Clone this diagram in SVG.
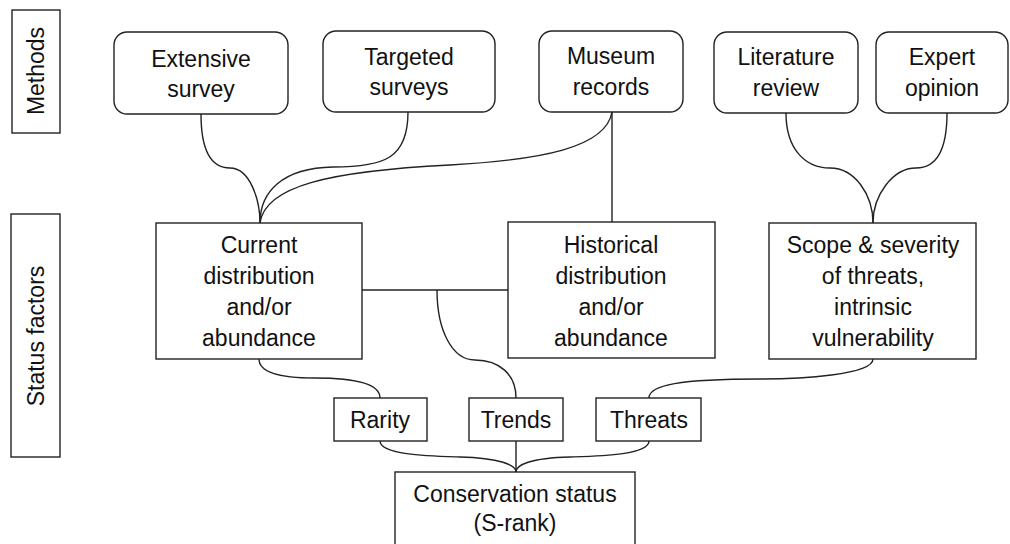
<svg xmlns="http://www.w3.org/2000/svg" width="1010" height="544" viewBox="0 0 1010 544">
<style>
.box{fill:#fff;stroke:#222;stroke-width:1.4}
.c{fill:none;stroke:#222;stroke-width:1.4}
text{font-family:"Liberation Sans",Arial,sans-serif;font-size:23px;fill:#111;text-anchor:middle}
</style>
<rect width="1010" height="544" fill="#fff"/>
<g id="connectors">
<path class="c" d="M201,114 C201,150 210,168 230,168 C250,168 260,200 260,223"/>
<path class="c" d="M408,112 C408,158 385,167 333,167 C282,168 260,192 260,223"/>
<path class="c" d="M612,112 C606,148 540,160 450,165 C330,171 265,186 260,223"/>
<path class="c" d="M612,112 L612,222"/>
<path class="c" d="M786,113 C786,150 806,168 830,168 C855,168 873,195 873,223"/>
<path class="c" d="M947,113 C947,150 937,168 916,168 C893,168 873,195 873,223"/>
<path class="c" d="M362,290 H508"/>
<path class="c" d="M437,290 C437,330 452,360 475,360 C500,360 516,375 516,398"/>
<path class="c" d="M259,359 C259,375 290,378 315,378 C360,378 380,385 380,398"/>
<path class="c" d="M873,359 C873,375 800,379 760,379 C680,379 649,385 649,398"/>
<path class="c" d="M380,441 C380,455 430,456 460,457 C500,458 516,465 516,472"/>
<path class="c" d="M516,441 L516,472"/>
<path class="c" d="M649,441 C649,455 600,456 570,457 C530,458 516,465 516,472"/>
</g>
<g id="methods-label"><rect class="box" x="12" y="10" width="48" height="123"/><text transform="translate(44,71) rotate(-90)">Methods</text></g>
<g id="status-label"><rect class="box" x="11" y="214" width="49" height="243"/><text transform="translate(44,336) rotate(-90)">Status factors</text></g>
<g id="extensive"><rect class="box" x="114" y="32" width="174" height="82" rx="13"/><text x="201" y="67">Extensive</text><text x="201" y="97">survey</text></g>
<g id="targeted"><rect class="box" x="323" y="31" width="172" height="81" rx="13"/><text x="409" y="65">Targeted</text><text x="409" y="95">surveys</text></g>
<g id="museum"><rect class="box" x="539" y="31" width="144" height="81" rx="13"/><text x="611" y="64">Museum</text><text x="611" y="95">records</text></g>
<g id="literature"><rect class="box" x="714" y="32" width="144" height="81" rx="13"/><text x="786" y="65">Literature</text><text x="786" y="96">review</text></g>
<g id="expert"><rect class="box" x="876" y="32" width="132" height="81" rx="13"/><text x="942" y="65">Expert</text><text x="942" y="96">opinion</text></g>
<g id="current"><rect class="box" x="156" y="223" width="206" height="136"/><text x="259" y="253">Current</text><text x="259" y="284">distribution</text><text x="259" y="315">and/or</text><text x="259" y="346">abundance</text></g>
<g id="historical"><rect class="box" x="508" y="222" width="207" height="136"/><text x="611" y="253">Historical</text><text x="611" y="284">distribution</text><text x="611" y="315">and/or</text><text x="611" y="346">abundance</text></g>
<g id="scope"><rect class="box" x="769" y="223" width="207" height="136"/><text x="873" y="253">Scope &amp; severity</text><text x="873" y="284">of threats,</text><text x="873" y="315">intrinsic</text><text x="873" y="346">vulnerability</text></g>
<g id="rarity"><rect class="box" x="334" y="398" width="93" height="43"/><text x="380" y="428">Rarity</text></g>
<g id="trends"><rect class="box" x="469" y="398" width="94" height="43"/><text x="516" y="428">Trends</text></g>
<g id="threats"><rect class="box" x="596" y="398" width="105" height="43"/><text x="649" y="428">Threats</text></g>
<g id="conservation"><rect class="box" x="395" y="472" width="240" height="80"/><text x="515" y="502">Conservation status</text><text x="515" y="531">(S-rank)</text></g>
</svg>
